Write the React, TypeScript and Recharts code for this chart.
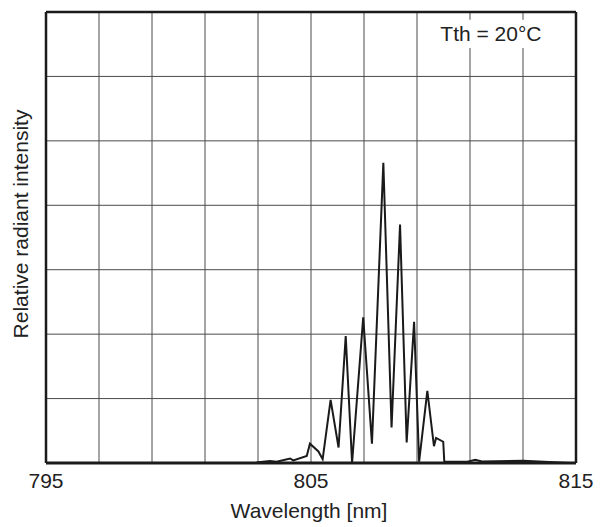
import { CartesianGrid, Line, LineChart, ReferenceArea, XAxis, YAxis } from 'recharts'

const FONT = '"Liberation Sans", Arial, Helvetica, sans-serif'

// wavelength [nm] and relative radiant intensity
const wavelengths = [
  795, 802.9, 803.01, 803.45, 803.7, 804.21, 804.33, 804.84, 804.96, 805.28, 805.44, 805.74,
  806.04, 806.31, 806.55, 806.97, 807.3, 807.73, 808.04, 808.36, 808.61, 808.89, 809.08,
  809.39, 809.64, 809.72, 809.99, 810.03, 810.9, 811.2, 811.45, 813.0, 814.8, 815,
]
const intensities = [
  0, 0, 0.01, 0.03, 0.02, 0.07, 0.04, 0.11, 0.3, 0.18, 0.06, 0.98,
  0.24, 1.97, 0.0, 2.26, 0.3, 4.66, 0.55, 3.7, 0.32, 2.19, 0.02,
  1.12, 0.26, 0.39, 0.33, 0.02, 0.02, 0.05, 0.025, 0.035, 0.0, 0,
]

const xTicks = [795, 797, 799, 801, 803, 805, 807, 809, 811, 813, 815]
const xLabelled = [795, 805, 815]
const yTicks = [0, 1, 2, 3, 4, 5, 6, 7]

const note = 'Tth = 20°C'
const xTitle = 'Wavelength [nm]'
const yTitle = 'Relative radiant intensity'

const data = wavelengths.map((wl, i) => ({ wl, v: intensities[i] }))

const BORDER = '#1b1b1b'
const GRID = '#4a4a4a'

const NoTick = () => <g />

export default function App() {
  return (
    <div style={{ position: 'absolute', left: 0, top: 0, background: '#fff' }}>
      <LineChart
        width={605}
        height={527}
        data={data}
        margin={{ top: 11, right: 28, bottom: 4, left: 6 }}
      >
        <CartesianGrid stroke={GRID} strokeWidth={1} vertical horizontal />
        <XAxis
          dataKey="wl"
          type="number"
          domain={[795, 815]}
          ticks={xTicks}
          allowDataOverflow
          height={60}
          tickLine={false}
          tickSize={8}
          tickMargin={2}
          axisLine={{ stroke: BORDER, strokeWidth: 3 }}
          tick={{ fill: '#222', fontSize: 21, fontFamily: FONT }}
          tickFormatter={(v: number) => (xLabelled.includes(v) ? String(v) : '')}
          interval={0}
          label={{
            content: (p: any) => {
              const vb = p.viewBox
              return (
                <text
                  x={vb.x + vb.width / 2 - 2}
                  y={518}
                  textAnchor="middle"
                  fill="#222"
                  fontSize={21}
                  fontFamily={FONT}
                >
                  {xTitle}
                </text>
              )
            },
          }}
        />
        <XAxis
          xAxisId="top"
          orientation="top"
          type="number"
          domain={[795, 815]}
          height={1}
          tick={false}
          tickLine={false}
          axisLine={{ stroke: BORDER, strokeWidth: 2.5 }}
        />
        <YAxis
          type="number"
          domain={[0, 7]}
          ticks={yTicks}
          interval={0}
          width={40}
          tick={NoTick}
          tickLine={false}
          axisLine={{ stroke: BORDER, strokeWidth: 2.5 }}
          label={{
            content: () => (
              <text
                x={27.5}
                y={224}
                transform="rotate(-90, 27.5, 224)"
                textAnchor="middle"
                fill="#222"
                fontSize={21}
                fontFamily={FONT}
              >
                {yTitle}
              </text>
            ),
          }}
        />
        <YAxis
          yAxisId="right"
          orientation="right"
          type="number"
          domain={[0, 7]}
          width={1}
          tick={false}
          tickLine={false}
          axisLine={{ stroke: BORDER, strokeWidth: 2.5 }}
        />
        <ReferenceArea
          x1={809.75}
          x2={813.83}
          y1={6.44}
          y2={6.88}
          fill="#fff"
          fillOpacity={1}
          stroke="none"
          label={{
            content: (p: any) => {
              const vb = p.viewBox
              return (
                <text
                  x={vb.x + vb.width / 2}
                  y={vb.y + vb.height / 2 + 7.5}
                  textAnchor="middle"
                  fill="#222"
                  fontSize={21}
                  fontFamily={FONT}
                >
                  {note}
                </text>
              )
            },
          }}
        />
        <Line
          type="linear"
          dataKey="v"
          stroke="#1a1a1a"
          strokeWidth={2}
          dot={false}
          activeDot={false}
          isAnimationActive={false}
        />
      </LineChart>
    </div>
  )
}
